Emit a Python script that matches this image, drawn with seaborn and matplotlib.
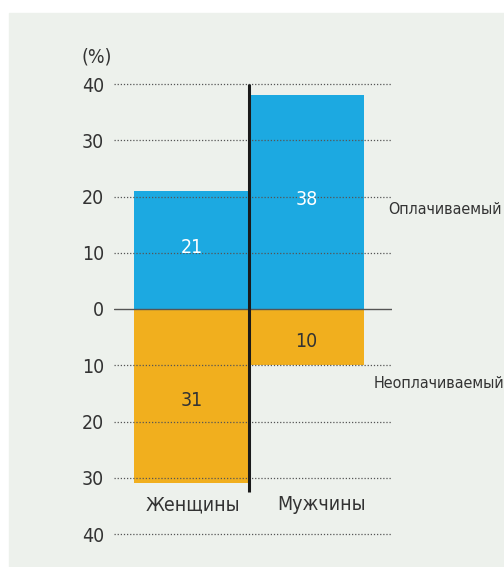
import matplotlib
matplotlib.use("Agg")
import matplotlib.pyplot as plt
import seaborn as sns
import pandas as pd

categories = ["Женщины", "Мужчины"]
paid = [21, 38]
unpaid = [31, 10]
series_labels = ["Оплачиваемый", "Неоплачиваемый"]
tick_values = [40, 30, 20, 10, 0, -10, -20, -30, -40]

blue = "#1ca9e1"
orange = "#f1af1e"
panel = "#edf1ec"
text_col = "#333333"

sns.set_style("white")
plt.rcParams["font.family"] = ["DejaVu Sans"]
plt.rcParams["font.stretch"] = "condensed"

df = pd.DataFrame({"cat": categories, "paid": paid, "unpaid": [-v for v in unpaid]})

fig = plt.figure(figsize=(5.04, 5.67), dpi=100)
fig.patches.append(plt.Rectangle((9 / 504, 0), 1, 1 - 13 / 567, transform=fig.transFigure,
                                 color=panel, zorder=-10))
ax = fig.add_axes([114 / 504, 1 - 534 / 567, (392 - 114) / 504, (534 - 84) / 567])
ax.patch.set_alpha(0)

sns.barplot(data=df, x="cat", y="paid", color=blue, width=1, saturation=1, linewidth=0, ax=ax, zorder=2)
sns.barplot(data=df, x="cat", y="unpaid", color=orange, width=1, saturation=1, linewidth=0, ax=ax, zorder=2)

ax.set_xlim(-0.674, 1.743)
ax.set_ylim(-40, 40)
ax.set_yticks(tick_values)
ax.set_yticklabels([str(abs(v)) for v in tick_values])
ax.set_xticks([])
ax.set_xlabel("")
ax.set_ylabel("")
for s in ax.spines.values():
    s.set_visible(False)
ax.tick_params(axis="y", length=0, pad=7, labelsize=14, labelcolor=text_col)

for v in tick_values:
    if v != 0:
        ax.axhline(v, color="#555555", lw=0.9, ls=(0, (1, 1.5)), zorder=3, clip_on=False)
ax.axhline(0, color="#555555", lw=1.0, zorder=3)
ax.plot([0.5, 0.5], [40, -32.5], color="#1a1a1a", lw=2.2, zorder=4, solid_capstyle="butt")

for i, v in enumerate(paid):
    ax.text(i, v / 2 + 0.5, str(v), ha="center", va="center", color="white", fontsize=14)
for i, v in enumerate(unpaid):
    ax.text(i, -v / 2 - 0.8, str(v), ha="center", va="center", color=text_col, fontsize=14)
for x, c in zip([0.01, 1.13], categories):
    ax.text(x, -34.8, c, ha="center", va="center", color=text_col, fontsize=14)

ax.text(1.71, 17.6, series_labels[0], ha="left", va="center", color=text_col, fontsize=11.5)
ax.text(1.58, -13.2, series_labels[1], ha="left", va="center", color=text_col, fontsize=11.5)
fig.text(97 / 504, 1 - 57 / 567, "(%)", ha="center", va="center", color=text_col, fontsize=14)

fig.savefig("out.png", dpi=100, facecolor="white")
